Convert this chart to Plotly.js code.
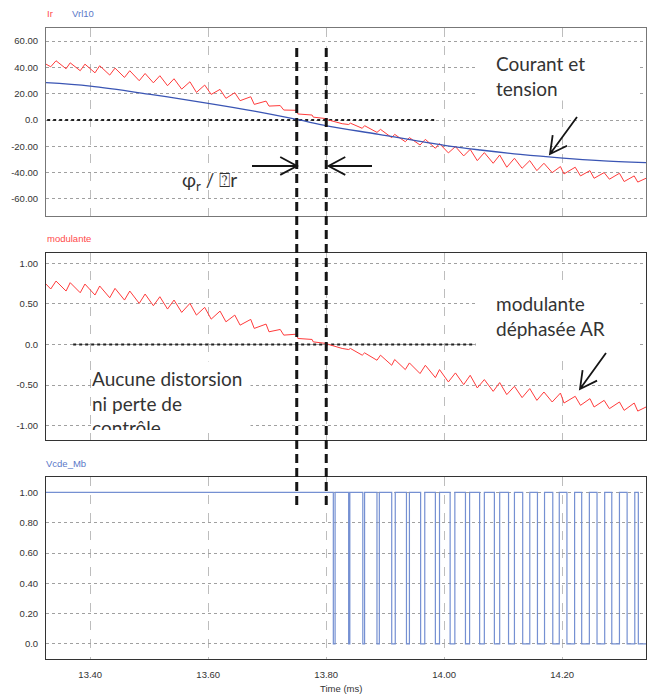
<!DOCTYPE html>
<html><head><meta charset="utf-8">
<script src="https://cdn.plot.ly/plotly-3.0.1.min.js"></script>
<style>html,body{margin:0;padding:0;background:#fff}#chart{width:654px;height:695px}</style>
</head><body><div id="chart"></div>
<script>
// ---- data ----
const rippleTime = [13.325,13.333,13.342,13.359,13.366,13.383,13.391,13.408,13.416,13.433,
  13.442,13.458,13.467,13.483,13.493,13.507,13.518,13.531,13.542,13.555,
  13.569,13.580,13.594,13.605,13.620,13.630,13.645,13.654,13.672,13.678,
  13.698,13.703,13.722,13.728,13.750,13.752,13.776,13.778,13.801,13.804,
  13.827,13.838,13.841,13.861,13.865,13.886,13.892,13.911,13.916,13.934,
  13.941,13.959,13.968,13.985,13.992,14.007,14.019,14.033,14.044,14.056,
  14.068,14.083,14.094,14.106,14.119,14.132,14.145,14.157,14.169,14.183,
  14.197,14.203,14.222,14.231,14.247,14.254,14.271,14.280,14.297,14.305,
  14.322,14.328,14.342];
const irValues = [42.5,40.5,45.1,39.0,43.5,37.5,42.5,35.9,41.3,34.2,
  39.5,32.4,37.5,29.9,35.4,28.3,33.7,26.1,31.4,23.5,
  29.1,21.0,26.6,19.5,23.3,16.5,20.8,14.7,17.7,11.9,
  14.4,10.6,11.0,7.6,7.4,4.6,3.8,2.2,1.0,0.0,
  -2.8,-3.4,-2.4,-6.3,-4.3,-9.4,-7.1,-13.4,-10.9,-16.5,
  -13.4,-19.0,-14.7,-21.5,-17.9,-25.0,-20.2,-27.3,-22.3,-30.9,
  -24.8,-32.9,-26.6,-35.9,-29.1,-36.7,-30.9,-38.5,-32.9,-40.0,
  -35.4,-41.0,-35.9,-42.5,-38.5,-44.3,-40.0,-45.0,-40.5,-46.8,
  -42.5,-47.2,-44.3];
const modulanteValues = [0.744,0.683,0.781,0.658,0.761,0.637,0.744,0.609,0.720,0.575,
  0.691,0.547,0.658,0.506,0.621,0.477,0.588,0.436,0.547,0.395,
  0.506,0.362,0.457,0.312,0.411,0.279,0.362,0.238,0.309,0.198,
  0.251,0.156,0.185,0.115,0.127,0.074,0.062,0.032,0.012,0.0,
  -0.049,-0.062,-0.049,-0.132,-0.103,-0.194,-0.132,-0.256,-0.185,-0.309,
  -0.227,-0.358,-0.256,-0.408,-0.309,-0.461,-0.350,-0.494,-0.379,-0.535,
  -0.432,-0.577,-0.469,-0.617,-0.515,-0.654,-0.543,-0.688,-0.585,-0.708,
  -0.598,-0.721,-0.638,-0.749,-0.667,-0.770,-0.688,-0.790,-0.708,-0.811,
  -0.721,-0.820,-0.770];
const vrlTime = [13.325,13.400,13.502,13.600,13.678,13.752,13.801,13.889,14.000,14.061,14.129,14.201,14.264,14.342];
const vrlValues = [28.4,25.8,19.5,12.7,6.8,0.3,-4.4,-10.9,-19.2,-22.8,-26.2,-29.0,-30.9,-32.4];
const vcdeTime = [13.325,13.812,13.815,13.838,13.840,13.862,13.865,13.886,13.890,13.911,
  13.917,13.936,13.941,13.960,13.967,13.985,13.992,14.010,14.018,14.036,
  14.043,14.060,14.068,14.085,14.094,14.109,14.119,14.133,14.145,14.158,
  14.170,14.184,14.195,14.208,14.221,14.233,14.246,14.259,14.272,14.284,
  14.297,14.310,14.323,14.329,14.342];
const vcdeValues = [1,0,1,0,1,0,1,0,1,0,
  1,0,1,0,1,0,1,0,1,0,
  1,0,1,0,1,0,1,0,1,0,
  1,0,1,0,1,0,1,0,1,0,
  1,0,1,0,0];
const xTickVals = [13.4,13.6,13.8,14.0,14.2];
const xTickText = ['13.40','13.60','13.80','14.00','14.20'];
const y1TickVals = [60,40,20,0,-20,-40,-60];
const y1TickText = ['60.00','40.00','20.00','0.0','-20.00','-40.00','-60.00'];
const y2TickVals = [1,0.5,0,-0.5,-1];
const y2TickText = ['1.00','0.50','0.0','-0.50','-1.00'];
const y3TickVals = [1,0.8,0.6,0.4,0.2,0];
const y3TickText = ['1.00','0.80','0.60','0.40','0.20','0.0'];
const markerTimes = [13.75,13.80];

// ---- styling ----
const narrow = 'Liberation Sans, Arial, sans-serif';
const bigFont = {family:'Lato, Open Sans, sans-serif', size:19, color:'#333'};
const xRange = [13.325,14.342];
const H = 695, L = 46, W = 600;
const py = p => 1 - p/H;
const px = p => (p - L)/W;
const boxFill = '#ffffff';

function xax(anchor, labels, lc){
  return {domain:[0,1], range:xRange, anchor:anchor, tickvals:xTickVals, ticktext:xTickText,
    showticklabels:labels, showgrid:true, gridcolor:'#bdbdbd', griddash:'dash', gridwidth:1,
    zeroline:false, showline:true, mirror:true, linecolor:lc, linewidth:1, ticks:'',
    ticklabelstandoff:7, tickfont:{family:narrow, size:9.5, color:'#333'}};
}
function yax(anchor, dom, range, tv, tt, lc){
  return {domain:dom, range:range, anchor:anchor, tickvals:tv, ticktext:tt, showgrid:true,
    gridcolor:'#a0a0a0', griddash:'dot', gridwidth:1, zeroline:false, showline:true, mirror:true,
    linecolor:lc, linewidth:1, ticks:'', ticklabelstandoff:5,
    tickfont:{family:narrow, size:9.5, color:'#333'}};
}

const traces = [
  {x:rippleTime, y:irValues, xaxis:'x', yaxis:'y', mode:'lines', line:{color:'#ff3b3b', width:1}},
  {x:vrlTime, y:vrlValues, xaxis:'x', yaxis:'y', mode:'lines', line:{color:'#3a55b4', width:1.3, shape:'spline'}},
  {x:rippleTime, y:modulanteValues, xaxis:'x2', yaxis:'y2', mode:'lines', line:{color:'#ff3b3b', width:1}},
  {x:vcdeTime, y:vcdeValues, xaxis:'x3', yaxis:'y3', mode:'lines', line:{color:'#7590d2', width:1.2, shape:'hv'}}
];

const shapes = [];
// white text boxes hiding the grid (no trace passes through them)
shapes.push({type:'rect', xref:'paper', yref:'paper', x0:px(476), x1:px(638), y0:py(100), y1:py(45), fillcolor:boxFill, line:{color:boxFill, width:1}, layer:'above'});
shapes.push({type:'rect', xref:'paper', yref:'paper', x0:px(476), x1:px(638), y0:py(353), y1:py(283), fillcolor:boxFill, line:{color:boxFill, width:1}, layer:'above'});
shapes.push({type:'rect', xref:'paper', yref:'paper', x0:px(91.5), x1:px(250), y0:py(430), y1:py(362), fillcolor:boxFill, line:{color:boxFill, width:1}, layer:'above'});
// black dotted zero references
shapes.push({type:'line', xref:'x', yref:'y', x0:13.327, x1:13.988, y0:0, y1:0, line:{color:'#222', width:2, dash:'dot'}, layer:'between'});
shapes.push({type:'line', xref:'x2', yref:'y2', x0:13.371, x1:14.054, y0:0, y1:0, line:{color:'#222', width:2, dash:'dot'}, layer:'between'});
markerTimes.forEach(t => shapes.push({type:'line', xref:'x', yref:'paper', x0:t, x1:t,
  y0:py(505), y1:py(45), line:{color:'#151515', width:3, dash:'9px,5px'}, layer:'above'}));

// arrows (tail pixel, head pixel) drawn as open-V line shapes
const arrows = [[[252,166],[297,166]], [[372,166],[328.5,166]], [[577,117],[550,154]], [[606,353],[580,389]]];
arrows.forEach(([t,h]) => {
  const dx = h[0]-t[0], dy = h[1]-t[1], n = Math.hypot(dx,dy), ux = dx/n, uy = dy/n;
  const len = 19, a = 28*Math.PI/180;
  const leg = s => [h[0] - len*(ux*Math.cos(a) - s*uy*Math.sin(a)), h[1] - len*(uy*Math.cos(a) + s*ux*Math.sin(a))];
  const l1 = leg(1), l2 = leg(-1);
  const P = p => px(p[0]).toFixed(5) + ',' + py(p[1]).toFixed(5);
  shapes.push({type:'path', xref:'paper', yref:'paper', layer:'above',
    path:'M' + P(t) + ' L' + P(h) + ' M' + P(l1) + ' L' + P(h) + ' L' + P(l2),
    line:{color:'#151515', width:1.8}});
});

const small = (c) => ({family:narrow, size:9.5, color:c});
const annotations = [
  {text:'Ir', xref:'paper', yref:'paper', x:px(45), y:py(14), xanchor:'left', yanchor:'middle', showarrow:false, font:small('#ff4a4a')},
  {text:'Vrl10', xref:'paper', yref:'paper', x:px(70), y:py(14), xanchor:'left', yanchor:'middle', showarrow:false, font:small('#5a78c8')},
  {text:'modulante', xref:'paper', yref:'paper', x:px(45), y:py(239), xanchor:'left', yanchor:'middle', showarrow:false, font:small('#ff4a4a')},
  {text:'Vcde_Mb', xref:'paper', yref:'paper', x:px(44), y:py(463), xanchor:'left', yanchor:'middle', showarrow:false, font:small('#5a78c8')},
  {text:'Time (ms)', xref:'paper', yref:'paper', x:px(341), y:py(688), xanchor:'center', yanchor:'middle', showarrow:false, font:{family:narrow, size:9.5, color:'#333'}},
  {text:'Courant et<br>tension', xref:'paper', yref:'paper', x:px(494), y:py(50), xanchor:'left', yanchor:'top', align:'left', showarrow:false, font:bigFont},
  {text:'modulante<br>déphasée AR', xref:'paper', yref:'paper', x:px(494), y:py(290), xanchor:'left', yanchor:'top', align:'left', showarrow:false, font:bigFont},
  {text:'Aucune distorsion<br>ni perte de<br>contrôle', xref:'paper', yref:'paper', x:px(90), y:py(365), xanchor:'left', yanchor:'top', align:'left', valign:'top', showarrow:false, width:160, height:63, font:bigFont},
  {text:'φ<sub>r</sub> / ⍰r', xref:'paper', yref:'paper', x:px(180), y:py(181), xanchor:'left', yanchor:'middle', align:'left', showarrow:false, font:bigFont}
];

const layout = {
  width:654, height:695, margin:{l:L, r:8, t:0, b:0}, showlegend:false,
  paper_bgcolor:'#fff', plot_bgcolor:'#fff',
  xaxis: xax('y', false, '#777'),
  yaxis: yax('x', [py(216), py(28)], [-73,70], y1TickVals, y1TickText, '#777'),
  xaxis2: xax('y2', false, '#333'),
  yaxis2: yax('x2', [py(440), py(252.7)], [-1.176,1.13], y2TickVals, y2TickText, '#333'),
  xaxis3: xax('y3', true, '#333'),
  yaxis3: yax('x3', [py(659), py(477.3)], [-0.10,1.10], y3TickVals, y3TickText, '#333'),
  shapes: shapes, annotations: annotations
};
Plotly.newPlot('chart', traces, layout, {displayModeBar:false, staticPlot:true});
</script></body></html>
